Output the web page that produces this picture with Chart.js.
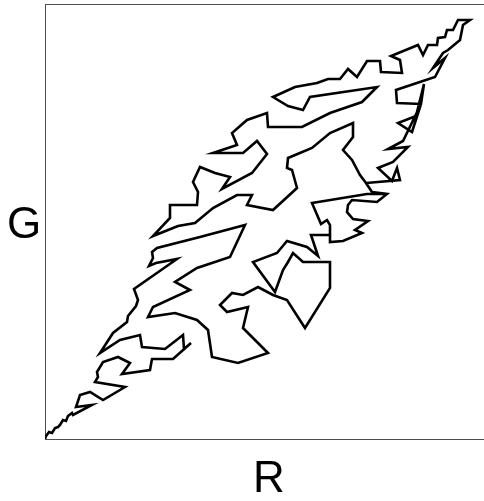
<!DOCTYPE html>
<html lang="en">
<head>
<meta charset="UTF-8">
<title>R vs G</title>
<script src="https://cdn.jsdelivr.net/npm/chart.js"></script>
<style>
  html, body { margin: 0; padding: 0; background: #fff; }
  #rgChart { display: block; }
</style>
</head>
<body>
<canvas id="rgChart" width="484" height="501"></canvas>
<script>
// walk through R/G space, in order
const redLevel = [
  0, 1, 4, 7, 10, 13, 15, 18, 21, 23, 27, 28, 47, 31, 35, 45, 58, 80, 50, 53,
  52, 58, 73, 85, 77, 105, 107, 128, 146, 139, 138, 120, 97, 95, 75, 55, 68, 82, 83, 91,
  93, 89, 132, 111, 104, 108, 107, 112, 155, 200, 185, 152, 130, 145, 108, 103, 130, 152, 163, 167,
  193, 223, 198, 203, 182, 175, 187, 198, 213, 228, 242, 260, 285, 285, 258, 248, 243, 238, 230, 208,
  232, 242, 262, 273, 266, 285, 285, 282, 276, 267, 322, 342, 327, 321, 315, 307, 298, 308, 308, 285,
  267, 243, 242, 247, 252, 228, 202, 207, 192, 168, 150, 133, 108, 125, 125, 152, 153, 148, 155, 170,
  185, 177, 207, 222, 212, 198, 168, 192, 187, 202, 222, 223, 257, 285, 317, 332, 265, 258, 243, 228,
  250, 272, 283, 295, 303, 312, 322, 335, 336, 357, 355, 346, 373, 378, 383, 392, 393, 400, 402, 408,
  413, 425, 418, 415, 403, 398, 388, 400, 390, 351, 352, 376, 379, 371, 353, 367, 376, 358, 343, 363, 348, 333,
  347, 352, 355, 321, 327, 342, 332, 307, 303, 302, 308, 323, 310, 317, 298, 285, 285
];
const greenLevel = [
  0, 3, 7, 6, 11, 12, 14, 19, 18, 23, 26, 24, 34, 32, 44, 47, 39, 52, 57, 62,
  67, 77, 82, 76, 65, 69, 80, 80, 96, 90, 104, 90, 92, 104, 99, 86, 106, 117, 123, 133,
  139, 150, 180, 176, 173, 181, 187, 191, 202, 214, 182, 171, 157, 149, 132, 122, 126, 119, 109, 82,
  76, 86, 111, 132, 127, 134, 146, 144, 152, 144, 139, 111, 151, 177, 177, 186, 177, 169, 147, 177,
  186, 198, 192, 183, 204, 204, 214, 219, 215, 236, 245, 245, 247, 256, 264, 279, 289, 302, 316, 306,
  291, 281, 271, 269, 251, 229, 234, 244, 244, 231, 216, 213, 203, 221, 234, 234, 247, 257, 272, 266,
  262, 250, 266, 285, 298, 286, 286, 294, 306, 319, 326, 312, 312, 326, 337, 352, 342, 329, 333, 342,
  352, 356, 360, 360, 370, 362, 378, 378, 367, 366, 379, 383, 394, 384, 394, 394, 401, 402, 409, 409,
  419, 419, 414, 399, 389, 386, 371, 381, 362, 349, 336, 335, 355, 323, 316, 307, 335, 298, 290, 292, 277, 271,
  258, 271, 259, 256, 247, 245, 237, 239, 234, 227, 220, 218, 209, 206, 198, 197, 203
];

const R_MAX = 439;
const G_MAX = 435;

const walkPoints = redLevel.map((r, i) => ({ x: r, y: greenLevel[i] }));

// box around the plot plus the two upright axis letters
const frameAndLetters = {
  id: 'frameAndLetters',
  beforeDatasetsDraw(chart) {
    const { ctx, chartArea: a } = chart;
    ctx.save();
    ctx.strokeStyle = '#4d4d4d';
    ctx.lineWidth = 1;
    ctx.strokeRect(a.left + 0.5, a.top + 0.5, a.right - a.left, a.bottom - a.top);
    ctx.restore();
  },
  afterDraw(chart) {
    const { ctx, chartArea: a } = chart;
    ctx.save();
    ctx.fillStyle = '#000';
    ctx.font = '44px "Liberation Sans", Arial, sans-serif';
    ctx.textAlign = 'center';
    ctx.textBaseline = 'alphabetic';
    ctx.fillText('R', 269, 492);
    ctx.fillText('G', 24, (a.top + a.bottom) / 2 + 16);
    ctx.restore();
  }
};

new Chart(document.getElementById('rgChart'), {
  type: 'scatter',
  data: {
    datasets: [{
      data: walkPoints,
      showLine: true,
      borderColor: '#000',
      borderWidth: 2.6,
      pointRadius: 0,
      tension: 0,
      fill: false
    }]
  },
  options: {
    responsive: false,
    animation: false,
    layout: { padding: { left: 45, top: 4, right: 0, bottom: 62 } },
    plugins: {
      legend: { display: false },
      tooltip: { enabled: false }
    },
    scales: {
      x: { type: 'linear', display: false, min: 0, max: R_MAX },
      y: { type: 'linear', display: false, min: 0, max: G_MAX }
    }
  },
  plugins: [frameAndLetters]
});
</script>
</body>
</html>
